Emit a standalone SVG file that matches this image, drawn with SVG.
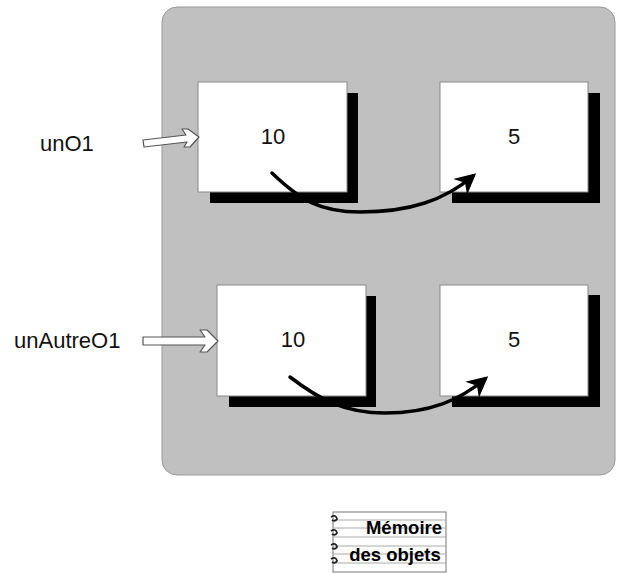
<svg xmlns="http://www.w3.org/2000/svg" width="619" height="573" viewBox="0 0 619 573">
<defs>
<style>
.lbl{font-family:"Liberation Sans",Arial,sans-serif;font-size:22px;fill:#111}
.val{font-family:"Liberation Sans",Arial,sans-serif;font-size:22px;fill:#111;text-anchor:middle}
.box{fill:#fff;stroke:#888;stroke-width:1}
.shadow{fill:#000}
.hollow{fill:#fff;stroke:#555;stroke-width:1.2;stroke-linejoin:round}
.curve{fill:none;stroke:#000;stroke-width:3.5;stroke-linecap:round}
.note{font-family:"Liberation Sans",Arial,sans-serif;font-size:18.5px;font-weight:bold;fill:#000;text-anchor:middle}
.rule{stroke:#aaa;stroke-width:1}
</style>
<marker id="ah" viewBox="0 0 10 10" refX="8" refY="5" markerWidth="6" markerHeight="6" orient="auto" markerUnits="strokeWidth">
<path d="M0,0 L10,5 L0,10 L3,5 z" fill="#000"/>
</marker>
</defs>
<rect id="memory" x="162" y="7" width="453" height="468" rx="15" ry="15" fill="#c0c0c0" stroke="#999" stroke-width="1"/>
<g id="obj1a">
<rect class="shadow" x="210" y="93" width="148" height="110"/>
<rect class="box" x="198" y="82" width="149" height="110"/>
<text class="val" x="273" y="144">10</text>
</g>
<g id="obj1b">
<rect class="shadow" x="452" y="93" width="148" height="110"/>
<rect class="box" x="440" y="82" width="148" height="110"/>
<text class="val" x="514" y="144">5</text>
</g>
<g id="obj2a">
<rect class="shadow" x="229" y="296" width="147" height="111"/>
<rect class="box" x="217" y="285" width="149" height="111"/>
<text class="val" x="293" y="347">10</text>
</g>
<g id="obj2b">
<rect class="shadow" x="452" y="295" width="148" height="112"/>
<rect class="box" x="440" y="285" width="148" height="111"/>
<text class="val" x="514" y="347">5</text>
</g>
<g id="ref1">
<text class="lbl" x="40" y="151">unO1</text>
</g>
<g id="ref2">
<text class="lbl" x="14" y="348">unAutreO1</text>
</g>
<g id="notepad">
<rect x="333" y="512" width="113" height="60" fill="#fff" stroke="#777" stroke-width="1"/>
<line class="rule" x1="333" y1="520" x2="446" y2="520"/>
<line class="rule" x1="333" y1="528" x2="446" y2="528"/>
<line class="rule" x1="333" y1="537" x2="446" y2="537"/>
<line class="rule" x1="333" y1="546" x2="446" y2="546"/>
<line class="rule" x1="333" y1="554" x2="446" y2="554"/>
<line class="rule" x1="333" y1="563" x2="446" y2="563"/>
<g fill="none" stroke="#222" stroke-width="1.8">
<path d="M331,517 q5,-3 6,2 q-2,3 -5,1"/>
<path d="M331,531 q5,-3 6,2 q-2,3 -5,1"/>
<path d="M331,545 q5,-3 6,2 q-2,3 -5,1"/>
<path d="M331,559 q5,-3 6,2 q-2,3 -5,1"/>
</g>
<text class="note" x="404" y="534">Mémoire</text>
<text class="note" x="395" y="561">des objets</text>
</g>
<g id="connectors">
<path class="hollow" d="M143,140 L186,135 L182,129 L188,129 L199,137 L190,147 L184,147 L187,142 L144,147 z"/>
<path class="hollow" d="M143,337 L205,337 L200,330 L207,330 L218,341 L207,352 L200,352 L205,345 L143,345 z"/>
<path class="curve" d="M272,173 C300,200 320,212 360,212 C410,212 445,200 473,176" marker-end="url(#ah)"/>
<path class="curve" d="M290,377 C320,400 345,413 385,413 C430,413 460,400 485,379" marker-end="url(#ah)"/>
</g>
</svg>
